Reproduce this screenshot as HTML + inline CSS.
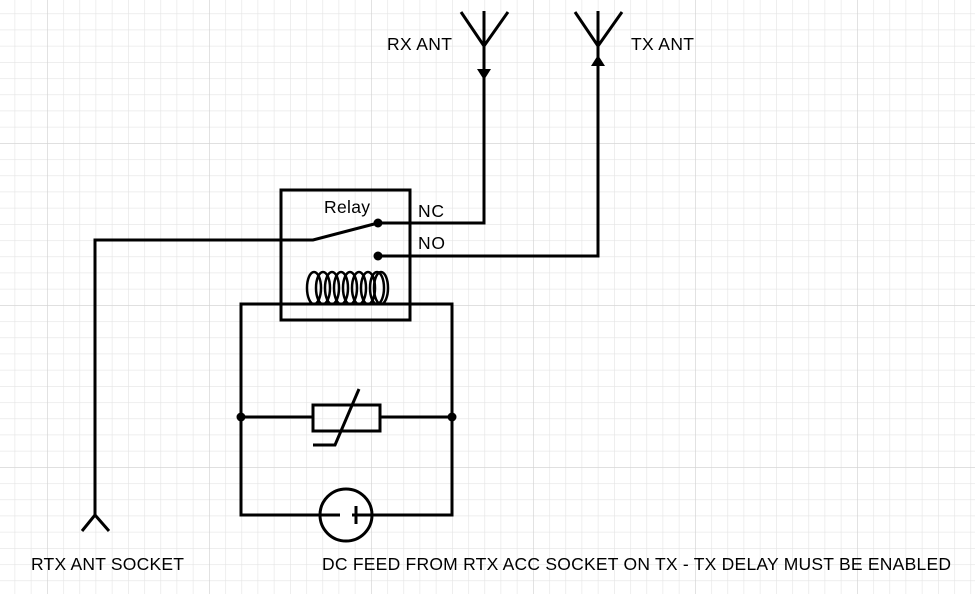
<!DOCTYPE html>
<html><head><style>
body{margin:0;background:#fff;}
svg{display:block}
text{font-family:"Liberation Sans",Arial,sans-serif;font-size:17.5px;fill:#000}
</style></head><body>
<svg width="975" height="594" viewBox="0 0 975 594">
<defs>
<pattern id="g" x="14.6" y="13.4" width="16.2" height="16.2" patternUnits="userSpaceOnUse">
<path d="M0 0H16.2M0 0V16.2" stroke="#e4e4e4" stroke-width="1.2" fill="none"/>
</pattern>
<pattern id="G" x="47" y="143" width="162" height="162" patternUnits="userSpaceOnUse">
<path d="M0 0H162M0 0V162" stroke="#d2d2d2" stroke-width="1.2" fill="none"/>
</pattern>
</defs>
<rect width="975" height="594" fill="url(#g)"/>
<rect width="975" height="594" fill="url(#G)"/>
<g stroke="#000" stroke-width="3" fill="none">
<path d="M484 11V110M461 12L484 46L508 12"/>
<path d="M598 11V110M575 12L598 46L622 12"/>
<path d="M484 80V223H378"/>
<path d="M598 60V256H378"/>
<rect x="281" y="190" width="129" height="130"/>
<path d="M95 515V240H313L378 223"/>
<path d="M82 531L95 515L109 531"/>
<rect x="241" y="304" width="211" height="211"/>
<path d="M241 417H313M380 417H452"/>
<rect x="313" y="405" width="67" height="26"/>
<path d="M313 445H335L359 389"/>
<circle cx="346" cy="515" r="26" fill="#fff"/>
<path d="M320 515H340M352 515H372M356 506V524"/>
</g>
<g stroke="#000" stroke-width="2.5" fill="none">
<ellipse cx="314" cy="288" rx="7" ry="16"/>
<ellipse cx="323" cy="288" rx="7" ry="16"/>
<ellipse cx="332" cy="288" rx="7" ry="16"/>
<ellipse cx="341" cy="288" rx="7" ry="16"/>
<ellipse cx="350" cy="288" rx="7" ry="16"/>
<ellipse cx="359" cy="288" rx="7" ry="16"/>
<ellipse cx="368" cy="288" rx="7" ry="16"/>
<ellipse cx="377" cy="288" rx="7" ry="16"/>
<ellipse cx="381" cy="288" rx="7" ry="16"/>
</g>
<g fill="#000">
<path d="M477 69H491L484 80Z"/>
<path d="M591 66H605L598 55Z"/>
<circle cx="378" cy="223" r="4.5"/>
<circle cx="378" cy="256" r="4.5"/>
<circle cx="241" cy="417" r="4.5"/>
<circle cx="452" cy="417" r="4.5"/>
</g>
<text x="324" y="213" textLength="46">Relay</text>
<text x="418" y="217" textLength="26">NC</text>
<text x="418" y="249" textLength="27">NO</text>
<text x="387" y="50" textLength="65">RX ANT</text>
<text x="631" y="50" textLength="63">TX ANT</text>
<text x="31" y="570" textLength="153">RTX ANT SOCKET</text>
<text x="322" y="570" textLength="629">DC FEED FROM RTX ACC SOCKET ON TX - TX DELAY MUST BE ENABLED</text>
</svg>
</body></html>
